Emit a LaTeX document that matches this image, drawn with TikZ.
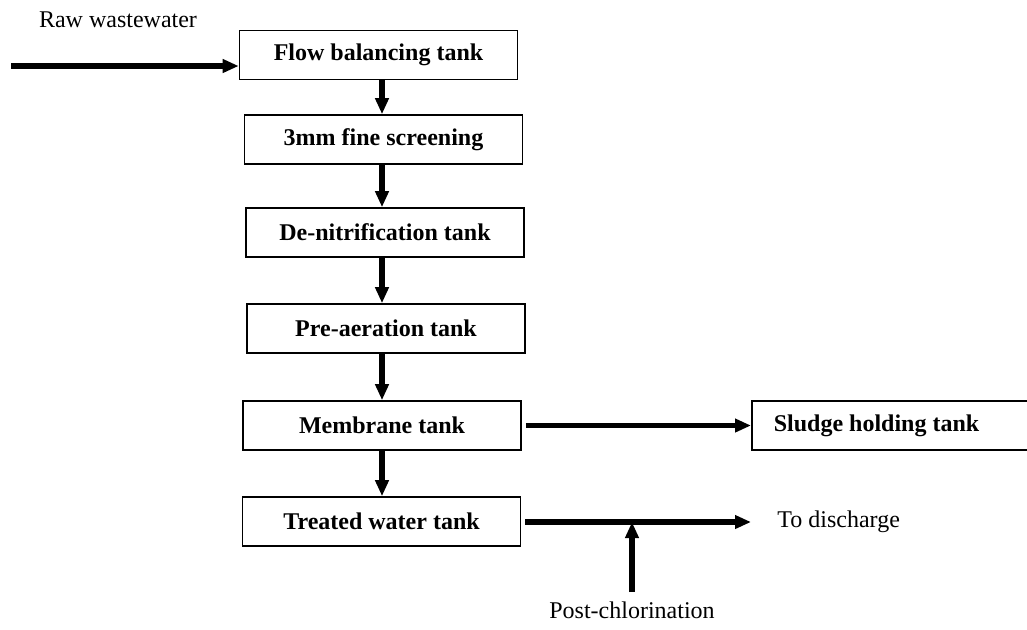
\documentclass[tikz,border=0pt]{standalone}
\usepackage{fontspec}
\setmainfont{Liberation Serif}
\usetikzlibrary{arrows.meta}

\tikzset{
  tankbox/.style={draw, line width=0.8pt, minimum width=139pt, minimum height=24.5pt, font=\fontsize{12}{14}\selectfont\bfseries},
  flowline/.style={->, >={Triangle[length=8pt,width=6.5pt]}, line width=2.6pt},
  plainlabel/.style={inner sep=0pt, font=\fontsize{12}{14}\selectfont}
}

\begin{document}
\begin{tikzpicture}[x=0.5pt, y=-0.5pt]
 \useasboundingbox (0, 0) rectangle (1027, 629);
 \node[tankbox] (FLOW) at (378.5, 55) {Flow balancing tank};
 \node[tankbox] (SCREEN) at (383.5, 139.5) {3mm fine screening};
 \node[tankbox] (DENIT) at (385, 232.5) {De-nitrification tank};
 \node[tankbox] (PREAER) at (386, 328.5) {Pre-aeration tank};
 \node[tankbox] (MEMB) at (382, 425.5) {Membrane tank};
 \node[tankbox] (TREAT) at (381.5, 521.5) {Treated water tank};
 \node[tankbox, anchor=west, minimum width=142pt, inner xsep=11pt] (SLUDGE) at (751, 425.5) {\makebox[120pt][l]{Sludge holding tank}};
 \node[plainlabel] (RAW) at (118, 20) {Raw wastewater};
 \node[plainlabel, anchor=west] (DISCH) at (777, 522) {To discharge};
 \node[plainlabel] (POSTCL) at (632, 610) {Post-chlorination};
 \coordinate (RAWIN) at (11, 66);
 \coordinate (SPINE) at (382, 0);
 \coordinate (JOIN) at (632, 522);
 \draw[flowline] (RAWIN) -- (RAWIN -| FLOW.west);
 \draw[flowline] (FLOW.south -| SPINE) -- (SCREEN.north -| SPINE);
 \draw[flowline] (SCREEN.south -| SPINE) -- (DENIT.north -| SPINE);
 \draw[flowline] (DENIT.south -| SPINE) -- (PREAER.north -| SPINE);
 \draw[flowline] (PREAER.south -| SPINE) -- (MEMB.north -| SPINE);
 \draw[flowline] (MEMB.south -| SPINE) -- (TREAT.north -| SPINE);
 \draw[flowline, shorten <=2pt] (MEMB.east) -- (SLUDGE.west);
 \draw[flowline, shorten <=2pt, shorten >=13pt] (TREAT.east |- JOIN) -- (DISCH.west |- JOIN);
 \draw[flowline, shorten <=4.5pt] (POSTCL.north) -- (JOIN);
\end{tikzpicture}
\end{document}
